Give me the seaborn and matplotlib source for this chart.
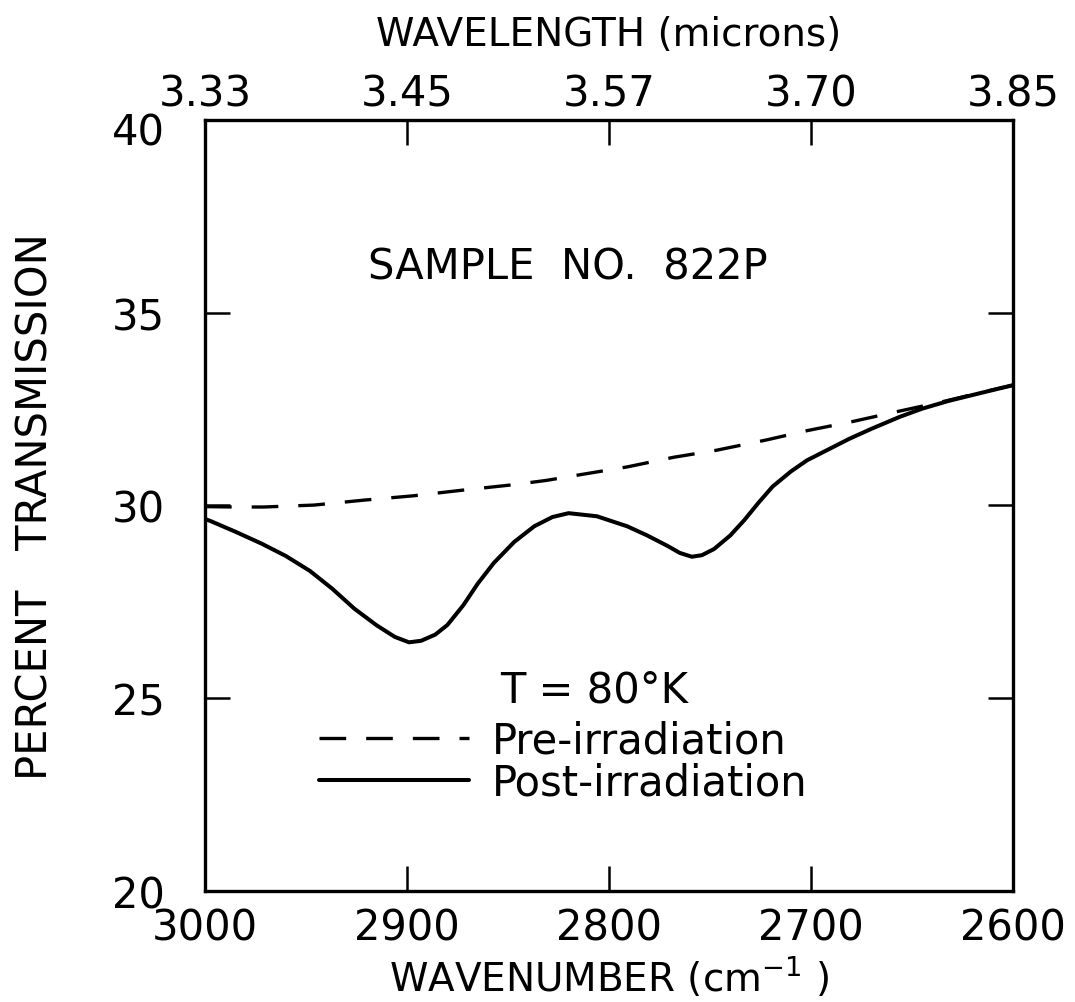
import numpy as np
import pandas as pd
import matplotlib
matplotlib.use("Agg")
import matplotlib.pyplot as plt
import matplotlib.transforms as mtransforms
import seaborn as sns

# ---- data ----
pre_wn = [3000, 2985, 2971, 2946, 2921, 2897, 2872, 2847, 2831, 2814, 2791,
          2768, 2747, 2722, 2702, 2680, 2656, 2635, 2615, 2600]
pre_t = [29.97, 29.96, 29.96, 30.01, 30.14, 30.25, 30.40, 30.54, 30.65, 30.80, 31.00,
         31.25, 31.43, 31.70, 31.94, 32.17, 32.45, 32.69, 32.94, 33.12]

post_wn = [3000, 2997, 2985, 2972, 2960, 2948, 2937, 2926, 2915, 2906, 2899, 2893, 2886,
           2880, 2872, 2865, 2857, 2847, 2837, 2828, 2820, 2806, 2791, 2781, 2771, 2765,
           2759, 2754, 2748, 2740, 2733, 2726, 2719, 2710, 2702, 2690, 2681, 2670,
           2656, 2645, 2632, 2615, 2600]
post_t = [29.65, 29.59, 29.32, 29.01, 28.69, 28.30, 27.84, 27.32, 26.89, 26.59, 26.45, 26.49, 26.65,
          26.90, 27.42, 27.97, 28.51, 29.05, 29.46, 29.70, 29.80, 29.72, 29.46, 29.22, 28.95, 28.77,
          28.67, 28.71, 28.87, 29.22, 29.62, 30.07, 30.49, 30.88, 31.17, 31.49, 31.73, 31.99,
          32.30, 32.51, 32.71, 32.93, 33.12]

x_ticks = [3000, 2900, 2800, 2700, 2600]
y_ticks = [20, 25, 30, 35, 40]
top_labels = ["3.33", "3.45", "3.57", "3.70", "3.85"]

sns.set_style("ticks")
plt.rcParams["font.family"] = ["DejaVu Sans"]
plt.rcParams["text.color"] = "black"
plt.rcParams["axes.labelcolor"] = "black"

fig = plt.figure(figsize=(10.75, 10.03), dpi=100)
ax = fig.add_axes([0.1907, 0.1107, 0.7516, 0.7687])

lw = 2.4
pre_df = pd.DataFrame({"wn": pre_wn, "t": pre_t})
post_df = pd.DataFrame({"wn": post_wn, "t": post_t})
sns.lineplot(data=pre_df, x="wn", y="t", ax=ax, color="black", lw=lw,
             estimator=None, sort=False, label="Pre-irradiation")
sns.lineplot(data=post_df, x="wn", y="t", ax=ax, color="black", lw=lw + 0.5,
             estimator=None, sort=False, label="Post-irradiation")
ax.lines[0].set_dashes((8, 6))

ax.set_xlim(3000, 2600)
ax.set_ylim(20, 40)
ax.set_xticks(x_ticks)
ax.set_yticks(y_ticks)
fs = 30
ax.tick_params(axis="both", direction="in", length=18, width=1.8, labelsize=fs,
               top=False, right=True, colors="black")
ax.tick_params(axis="x", pad=11)
ax.tick_params(axis="y", pad=29)
for s in ax.spines.values():
    s.set_linewidth(2.4)
    s.set_color("black")

# nudge the top label of the y axis inward, as in the original
for lab in ax.get_yticklabels():
    if lab.get_text() == "40":
        lab.set_transform(lab.get_transform() +
                          mtransforms.ScaledTranslation(0, -6 / 72, fig.dpi_scale_trans))

ax.set_xlabel("WAVENUMBER (cm$^{-1}$ )", fontsize=28, labelpad=4)
ax.set_ylabel("PERCENT   TRANSMISSION", fontsize=fs, labelpad=40)

top = ax.twiny()
top.set_xlim(ax.get_xlim())
top.set_xticks(x_ticks)
top.set_xticklabels(top_labels)
top.tick_params(axis="x", direction="in", length=18, width=1.8, labelsize=fs, pad=4,
                colors="black")
top.set_xlabel("WAVELENGTH (microns)", fontsize=28, labelpad=20)
for s in top.spines.values():
    s.set_visible(False)

fig.text(0.528, 0.733, "SAMPLE  NO.  822P", fontsize=fs, ha="center", va="center")
fig.text(0.465, 0.312, "T = 80°K", fontsize=fs, ha="left", va="center")

leg = ax.legend(loc="upper left", bbox_to_anchor=(0.297, 0.282),
                bbox_transform=fig.transFigure, frameon=False, fontsize=fs,
                handlelength=3.6, handletextpad=0.55, labelspacing=0.0,
                borderpad=0, borderaxespad=0)
for h in leg.get_lines():
    h.set_color("black")

fig.savefig("out.png", dpi=100, facecolor="white")
